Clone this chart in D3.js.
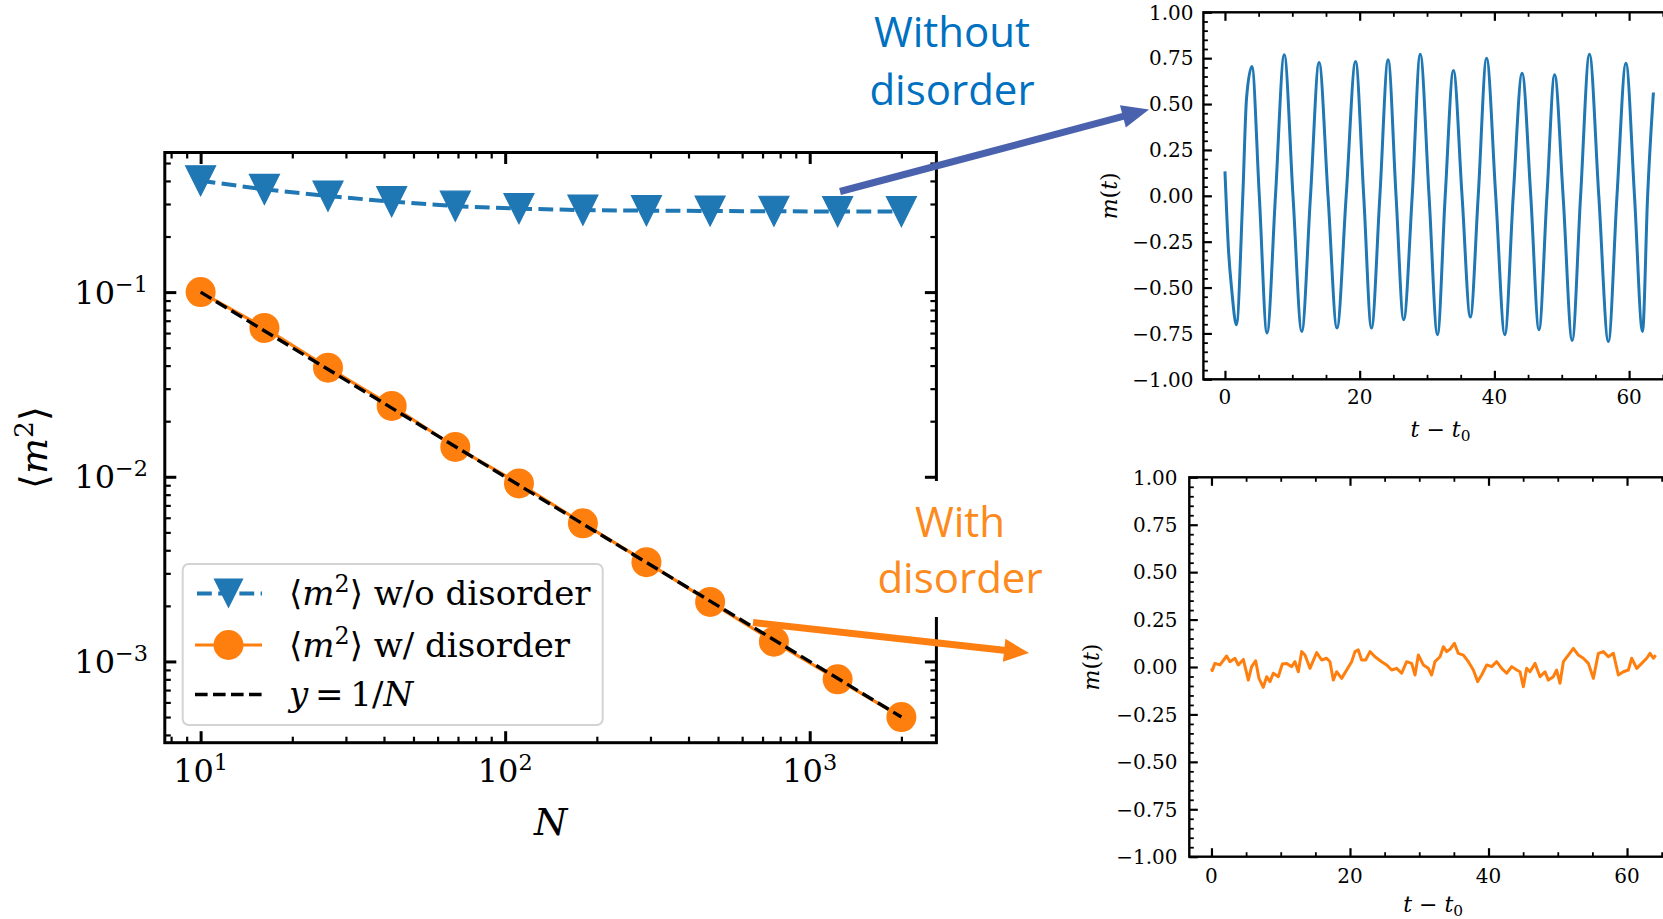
<!DOCTYPE html>
<html><head><meta charset="utf-8">
<script src="https://cdn.jsdelivr.net/npm/d3@7"></script>
<style>body{margin:0;background:#fff} svg{display:block}</style>
</head><body>
<svg id="c" width="1663" height="919"></svg>
<script>
// ---------------- data ----------------
const sizesN = [10, 16.2, 26.2, 42.4, 68.6, 111, 180, 291, 471, 763, 1235, 2000];
const m2NoDisorder = [0.401, 0.360, 0.331, 0.309, 0.292, 0.283, 0.278, 0.276, 0.275, 0.274, 0.273, 0.273];
const m2Disorder = [0.1, 0.064, 0.039, 0.0242, 0.0145, 0.0092, 0.0056, 0.00345, 0.0021, 0.00128, 0.0008, 0.0005];
const refLineN = [10, 2000];            // y = 1/N
const xTickExps = [1, 2, 3];
const yTickExps = [-1, -2, -3];

const blueT = [0, 0.55, 1.0, 1.7, 2.65, 3.2, 4.0, 5.1, 6.24, 7.5, 8.8, 10.1, 11.4, 12.7, 13.97, 15.3, 16.63, 18.0, 19.39, 20.6, 21.75, 23.0, 24.22, 25.4, 26.53, 27.8, 28.99, 30.3, 31.55, 32.7, 33.92, 35.2, 36.43, 37.6, 38.84, 40.2, 41.55, 42.8, 44.11, 45.4, 46.62, 47.8, 48.94, 50.2, 51.55, 52.8, 54.11, 55.5, 56.92, 58.2, 59.53, 60.8, 61.99, 62.75, 63.61];
const blueM = [0.133, -0.31, -0.51, -0.703, 0, 0.53, 0.705, 0, -0.748, 0, 0.768, 0, -0.739, 0, 0.727, 0, -0.721, 0, 0.732, 0, -0.721, 0, 0.741, 0, -0.676, 0, 0.772, 0, -0.757, 0, 0.683, 0, -0.661, 0, 0.750, 0, -0.757, 0, 0.668, 0, -0.730, 0, 0.659, 0, -0.788, 0, 0.772, 0, -0.794, 0, 0.723, 0, -0.739, 0, 0.563];

const orangeT = [0, 0.1, 0.5, 1.23, 2.19, 2.67, 3.39, 3.87, 4.6, 5.32, 5.8, 6.38, 6.86, 7.48, 7.97, 8.45, 8.93, 9.65, 10.23, 10.85, 11.58, 12.06, 12.54, 13.02, 13.5, 14.22, 15.19, 15.91, 16.63, 17.11, 17.59, 18.07, 18.8, 19.52, 20.24, 20.72, 21.2, 21.68, 22.26, 22.89, 23.61, 24.57, 25.29, 26.02, 26.74, 27.46, 28.18, 28.91, 29.39, 29.87, 30.59, 31.31, 31.79, 32.27, 33.0, 33.48, 33.96, 34.44, 35.07, 35.64, 36.37, 37.09, 37.81, 38.44, 39.01, 39.74, 40.46, 41.18, 41.9, 42.62, 43.35, 44.07, 44.55, 45.03, 45.51, 45.99, 46.71, 47.44, 48.16, 48.64, 49.36, 49.84, 50.32, 50.81, 51.53, 52.25, 52.97, 53.69, 54.42, 55.14, 55.86, 56.58, 57.3, 58.03, 58.75, 59.47, 60.19, 60.67, 61.4, 62.12, 62.84, 63.32, 63.8, 64.14];
const orangeM = [-0.007, -0.019, 0.019, 0.011, 0.058, 0.028, 0.046, 0.011, 0.040, -0.069, 0.002, 0.033, -0.060, -0.107, -0.051, -0.077, -0.033, -0.051, 0.016, 0.019, 0.002, 0.028, -0.025, 0.081, 0.063, -0.007, 0.076, 0.037, 0.046, 0.028, -0.069, -0.025, -0.060, -0.016, 0.028, 0.081, 0.090, 0.037, 0.037, 0.081, 0.054, 0.028, 0.011, -0.016, -0.007, -0.033, 0.028, 0.019, -0.042, 0.063, 0.011, -0.007, -0.042, 0.028, 0.054, 0.107, 0.081, 0.093, 0.125, 0.072, 0.063, 0.028, -0.016, -0.077, -0.042, 0.011, 0.002, 0.028, -0.007, -0.033, 0.002, -0.016, -0.025, -0.104, -0.007, -0.025, 0.019, -0.051, -0.025, -0.069, -0.051, -0.016, -0.086, 0.028, 0.063, 0.098, 0.063, 0.046, 0.019, -0.060, 0.072, 0.081, 0.054, 0.072, -0.042, -0.025, -0.016, 0.046, -0.007, 0.019, 0.046, 0.072, 0.046, 0.063];

const mTickValues = [1, 0.75, 0.5, 0.25, 0, -0.25, -0.5, -0.75, -1];
const tTickValues = [0, 20, 40, 60];
const legendNames = ["w/o disorder", "w/ disorder"];
const noteTop = ["Without", "disorder"];
const noteBottom = ["With", "disorder"];

// ---------------- helpers ----------------
const SERIF = "'DejaVu Serif', serif";
const BRACKET = "'DejaVu Sans', 'DejaVu Serif', sans-serif";
const BLUE = "#1f77b4", ORANGE = "#ff7f0e";
const svg = d3.select("#c");

function mathText(g, x, y, size, parts, anchor) {
  const t = g.append("text").attr("x", x).attr("y", y).attr("font-family", SERIF)
    .attr("font-size", size).attr("text-anchor", anchor || "start").attr("fill", "#000");
  let shift = 0;
  parts.forEach(p => {
    const s = t.append("tspan").text(p.t);
    let target = 0;
    if (p.sup) { s.attr("font-size", size * 0.7); target = -size * 0.38; }
    if (p.sub) { s.attr("font-size", size * 0.7); target = size * 0.2; }
    if (target !== shift) { s.attr("dy", target - shift); shift = target; }
    if (p.it) s.attr("font-style", "italic");
    if (p.br) s.attr("font-family", BRACKET);
  });
  return t;
}
function axisTicks(g, axisFn, scale, vals, len, w, tr) {
  const a = g.append("g").attr("transform", tr)
    .call(axisFn(scale).tickValues(vals).tickSize(len).tickSizeOuter(0).tickFormat(""));
  a.select(".domain").remove();
  a.selectAll("line").attr("stroke", "#000").attr("stroke-width", w);
}
function logMinors(dom, kmin, kmax) {
  const out = [];
  for (let k = kmin; k <= kmax; k++) for (let d = 2; d <= 9; d++) {
    const v = d * Math.pow(10, k);
    if (v > dom[0] && v < dom[1]) out.push(v);
  }
  return out;
}

// ---------------- main log-log panel ----------------
const L = 164.8, R = 936.4, T = 152.5, B = 742.7;
const mx = d3.scaleLog().domain([Math.pow(10, 0.8824), Math.pow(10, 3.416)]).range([L, R]);
const my = d3.scaleLog().domain([Math.pow(10, -3.44), Math.pow(10, -0.244)]).range([B, T]);
const gM = svg.append("g");

const xMaj = xTickExps.map(e => Math.pow(10, e));
const yMaj = yTickExps.map(e => Math.pow(10, e));
const xMin = logMinors(mx.domain(), 0, 3);
const yMin = logMinors(my.domain(), -4, -1);
axisTicks(gM, d3.axisBottom, mx, xMaj, -11.5, 3, `translate(0,${B})`);
axisTicks(gM, d3.axisBottom, mx, xMin, -6, 2.2, `translate(0,${B})`);
axisTicks(gM, d3.axisTop, mx, xMaj, -11.5, 3, `translate(0,${T})`);
axisTicks(gM, d3.axisTop, mx, xMin, -6, 2.2, `translate(0,${T})`);
axisTicks(gM, d3.axisLeft, my, yMaj, -11.5, 3, `translate(${L},0)`);
axisTicks(gM, d3.axisLeft, my, yMin, -6, 2.2, `translate(${L},0)`);
axisTicks(gM, d3.axisRight, my, yMaj, -11.5, 3, `translate(${R},0)`);
axisTicks(gM, d3.axisRight, my, yMin, -6, 2.2, `translate(${R},0)`);

// data lines
const ptsBlue = d3.zip(sizesN, m2NoDisorder);
const ptsOr = d3.zip(sizesN, m2Disorder);
const lineLog = d3.line().x(d => mx(d[0])).y(d => my(d[1]));
gM.append("path").attr("d", lineLog(ptsBlue)).attr("fill", "none").attr("stroke", BLUE)
  .attr("stroke-width", 4).attr("stroke-dasharray", "14.8,6.4");
function triDown(s) { return `M0,${s/2}L${-s/2},${-s/2}L${s/2},${-s/2}Z`; }
gM.selectAll(".tri").data(ptsBlue).enter().append("path")
  .attr("transform", d => `translate(${mx(d[0])},${my(d[1])})`)
  .attr("d", triDown(30)).attr("fill", BLUE).attr("stroke", BLUE).attr("stroke-width", 1.2);
gM.append("path").attr("d", lineLog(ptsOr)).attr("fill", "none").attr("stroke", ORANGE).attr("stroke-width", 3.2);
gM.selectAll(".dot").data(ptsOr).enter().append("circle")
  .attr("cx", d => mx(d[0])).attr("cy", d => my(d[1])).attr("r", 15).attr("fill", ORANGE);
gM.append("path").attr("d", lineLog(refLineN.map(n => [n, 1 / n]))).attr("fill", "none")
  .attr("stroke", "#000").attr("stroke-width", 3.4).attr("stroke-dasharray", "12.6,5.4");

gM.append("rect").attr("x", L).attr("y", T).attr("width", R - L).attr("height", B - T)
  .attr("fill", "none").attr("stroke", "#000").attr("stroke-width", 3);

// tick labels
xTickExps.forEach(e => mathText(gM, mx(Math.pow(10, e)), 782, 32, [{t: "10"}, {t: String(e), sup: true}], "middle"));
yTickExps.forEach(e => mathText(gM, 148, my(Math.pow(10, e)) + 11.7, 32, [{t: "10"}, {t: "\u2212" + Math.abs(e), sup: true}], "end"));
mathText(gM, (L + R) / 2, 835, 38, [{t: "N", it: true}], "middle");
const yl = mathText(gM, 0, 0, 38, [{t: "\u27E8", br: true}, {t: "m", it: true}, {t: "2", sup: true}, {t: "\u27E9", br: true}], "middle");
yl.attr("transform", `translate(47,${(T + B) / 2}) rotate(-90)`);

// legend
const lg = gM.append("g");
lg.append("rect").attr("x", 182.7).attr("y", 564).attr("width", 420).attr("height", 161).attr("rx", 6)
  .attr("fill", "#fff").attr("fill-opacity", 0.85).attr("stroke", "#d3d3d3").attr("stroke-width", 2);
const rows = [593.5, 645, 694.5];
const hx0 = 195, hx1 = 262, hxm = 228.5, tx = 289, LFS = 34;
lg.append("line").attr("x1", hx0).attr("x2", hx1).attr("y1", rows[0]).attr("y2", rows[0])
  .attr("stroke", BLUE).attr("stroke-width", 4).attr("stroke-dasharray", "14.8,6.4").attr("stroke-dashoffset", -2);
lg.append("path").attr("transform", `translate(${hxm},${rows[0]})`).attr("d", triDown(30)).attr("fill", BLUE);
lg.append("line").attr("x1", hx0).attr("x2", hx1).attr("y1", rows[1]).attr("y2", rows[1])
  .attr("stroke", ORANGE).attr("stroke-width", 3.2);
lg.append("circle").attr("cx", hxm).attr("cy", rows[1]).attr("r", 15).attr("fill", ORANGE);
lg.append("line").attr("x1", hx0).attr("x2", hx1).attr("y1", rows[2]).attr("y2", rows[2])
  .attr("stroke", "#000").attr("stroke-width", 3.4).attr("stroke-dasharray", "12.6,5.4");
legendNames.forEach((nm, i) => mathText(lg, tx, rows[i] + 11.5, LFS,
  [{t: "\u27E8", br: true}, {t: "m", it: true}, {t: "2", sup: true}, {t: "\u27E9", br: true}, {t: "\u00A0" + nm}]));
mathText(lg, tx, rows[2] + 11.5, LFS, [{t: "y", it: true}, {t: "\u2009=\u20091/"}, {t: "N", it: true}]);

// ---------------- right panels ----------------
function timePanel(cfg) {
  const g = svg.append("g");
  const x = d3.scaleLinear().domain([-3.2, 67.2]).range([cfg.L, cfg.R]);
  const y = d3.scaleLinear().domain([-1, 1]).range([cfg.B, cfg.T]);
  const yMinor = d3.range(-1, 1.0001, 0.05).map(v => Math.round(v * 100) / 100)
    .filter(v => Math.abs(v * 4 - Math.round(v * 4)) > 1e-6);
  const xMinor = d3.range(5, 70, 5).filter(v => v % 20 !== 0);
  axisTicks(g, d3.axisLeft, y, mTickValues, -8.5, 2.2, `translate(${cfg.L},0)`);
  axisTicks(g, d3.axisLeft, y, yMinor, -4.5, 1.8, `translate(${cfg.L},0)`);
  axisTicks(g, d3.axisBottom, x, tTickValues, -8.5, 2.2, `translate(0,${cfg.B})`);
  axisTicks(g, d3.axisBottom, x, xMinor, -4.5, 1.8, `translate(0,${cfg.B})`);
  axisTicks(g, d3.axisTop, x, tTickValues, -8.5, 2.2, `translate(0,${cfg.T})`);
  axisTicks(g, d3.axisTop, x, xMinor, -4.5, 1.8, `translate(0,${cfg.T})`);
  const line = d3.line().x(d => x(d[0])).y(d => y(d[1])).curve(cfg.curve || d3.curveLinear);
  g.append("path").attr("d", line(d3.zip(cfg.t, cfg.m))).attr("fill", "none")
    .attr("stroke", cfg.color).attr("stroke-width", 3).attr("stroke-linejoin", "round");
  g.append("rect").attr("x", cfg.L).attr("y", cfg.T).attr("width", cfg.R - cfg.L).attr("height", cfg.B - cfg.T)
    .attr("fill", "none").attr("stroke", "#000").attr("stroke-width", 2.4);
  mTickValues.forEach(v => g.append("text").attr("x", cfg.labR).attr("y", y(v) + 7.3)
    .attr("text-anchor", "end").attr("font-family", SERIF).attr("font-size", 20)
    .text((v < 0 ? "\u2212" : "") + Math.abs(v).toFixed(2)));
  tTickValues.forEach(v => g.append("text").attr("x", x(v)).attr("y", cfg.B + cfg.xlabDy)
    .attr("text-anchor", "middle").attr("font-family", SERIF).attr("font-size", 20).text(v));
  const yl = mathText(g, 0, 0, 22, [{t: "m", it: true}, {t: "("}, {t: "t", it: true}, {t: ")"}], "middle");
  yl.attr("transform", `translate(${cfg.ylX},${(cfg.T + cfg.B) / 2}) rotate(-90)`);
  mathText(g, (cfg.L + cfg.R) / 2, cfg.xlY, 22, [{t: "t", it: true}, {t: " \u2212 "}, {t: "t", it: true}, {t: "0", sub: true}], "middle");
}
timePanel({L: 1203.4, R: 1677.6, T: 12.3, B: 379.3, t: blueT, m: blueM, color: BLUE,
  curve: d3.curveMonotoneX, labR: 1193.5, xlabDy: 24.5, ylX: 1117, xlY: 437});
timePanel({L: 1189.3, R: 1676.9, T: 477.3, B: 856.7, t: orangeT, m: orangeM, color: ORANGE,
  labR: 1177.5, xlabDy: 26, ylX: 1099, xlY: 912});

// ---------------- annotations ----------------
function arrow(x1, y1, x2, y2, color, w, hl, hw) {
  const dx = x2 - x1, dy = y2 - y1, len = Math.hypot(dx, dy), ux = dx / len, uy = dy / len, px = -uy, py = ux;
  const bx = x2 - ux * hl, by = y2 - uy * hl;
  svg.append("line").attr("x1", x1).attr("y1", y1).attr("x2", bx + ux * 2).attr("y2", by + uy * 2)
    .attr("stroke", color).attr("stroke-width", w);
  svg.append("path").attr("d", `M${x2},${y2}L${bx + px * hw / 2},${by + py * hw / 2}L${bx - px * hw / 2},${by - py * hw / 2}Z`)
    .attr("fill", color);
}
arrow(840, 191.5, 1149, 109.5, "#4a62ad", 7, 27, 23);
arrow(753, 622.5, 1029, 653, "#fd7f12", 7, 25, 23);

const SANS = "'Open Sans', 'Noto Sans', sans-serif";
noteTop.forEach((s, i) => svg.append("text").attr("x", 952).attr("y", 47 + i * 58)
  .attr("text-anchor", "middle").attr("font-family", SANS).attr("font-size", 42).attr("fill", "#0070c0").text(s));
svg.append("rect").attr("x", 878).attr("y", 481).attr("width", 164).attr("height", 136).attr("fill", "#fff");
noteBottom.forEach((s, i) => svg.append("text").attr("x", 960).attr("y", 537 + i * 56)
  .attr("text-anchor", "middle").attr("font-family", SANS).attr("font-size", 42).attr("fill", "#fd8a1c").text(s));
</script>
</body></html>
